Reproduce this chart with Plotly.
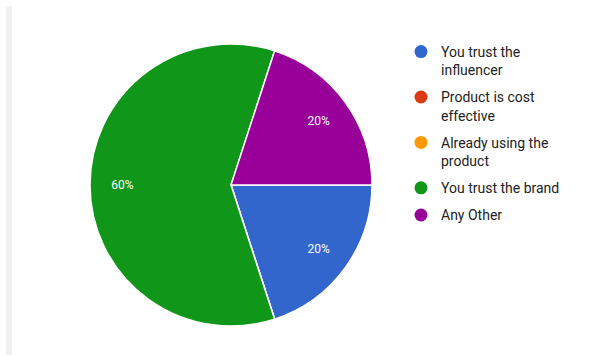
import plotly.graph_objects as go

labels = ["You trust the<br>influencer", "Product is cost<br>effective",
          "Already using the<br>product", "You trust the brand", "Any Other"]
values = [1, 0, 0, 3, 1]
colors = ["#3366cc", "#dc3912", "#ff9900", "#109618", "#990099"]

total = sum(values)
texts = [f"{v / total:.0%}" if v else "" for v in values]
dom = dict(x=[90/613, 372/613], y=[1-327/357, 1-43/357])

fig = go.Figure()
fig.add_trace(go.Pie(
    labels=labels, values=values, textinfo="none",
    marker=dict(colors=colors, line=dict(color="white", width=1.5)),
    sort=False, direction="clockwise", rotation=90, showlegend=False,
    domain=dom, hoverinfo="label+percent",
))
# transparent ring used only to position the percentage labels
fig.add_trace(go.Pie(
    labels=labels, values=values, text=texts, textinfo="text",
    textposition="inside", insidetextorientation="horizontal",
    insidetextfont=dict(color="white", size=12, family="Roboto"),
    marker=dict(colors=["rgba(0,0,0,0)"] * len(values), line=dict(width=0)),
    hole=0.54, sort=False, direction="clockwise", rotation=90, showlegend=False,
    domain=dom, hoverinfo="skip",
))
for lab, col in zip(labels, colors):
    fig.add_trace(go.Scatter(
        x=[None], y=[None], mode="markers", name=lab, legendgroup=lab,
        marker=dict(color=col, size=13, symbol="circle"),
    ))

fig.update_layout(
    width=613, height=357, margin=dict(l=0, r=0, t=0, b=0),
    paper_bgcolor="white", plot_bgcolor="white",
    xaxis=dict(visible=False), yaxis=dict(visible=False),
    legend=dict(x=401/613, y=1-36/357, xanchor="left", yanchor="top",
                font=dict(family="Roboto", size=14, color="#222222"),
                valign="top", tracegroupgap=6, itemwidth=30),
    shapes=[dict(type="rect", xref="paper", yref="paper",
                 x0=6/613, x1=12/613, y0=2/357, y1=1-6/357,
                 fillcolor="#f1f1f1", line=dict(width=0), layer="below")],
)
fig.write_html("out.html")
